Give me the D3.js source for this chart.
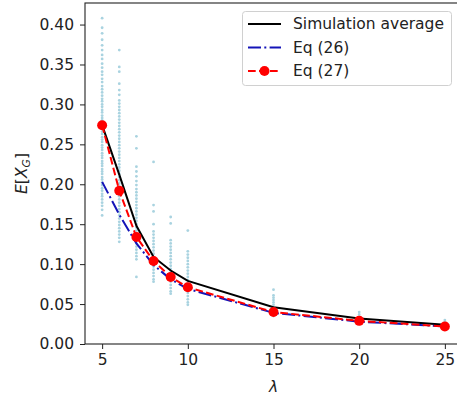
<!DOCTYPE html>
<html>
<head>
<meta charset="utf-8">
<script src="https://cdn.jsdelivr.net/npm/d3@7"></script>
<style>
  body { margin: 0; background: #fff; }
  svg { display: block; font-family: "DejaVu Sans", sans-serif; }
</style>
</head>
<body>
<svg id="chart" width="457" height="398"></svg>
<script>
// lambda values on the x axis
const lambdas = [5, 6, 7, 8, 9, 10, 15, 20, 25]
const simAverage = [0.274, 0.212, 0.148, 0.109, 0.092, 0.079, 0.046, 0.032, 0.024]
const eq26 = [0.203, 0.162, 0.126, 0.099, 0.081, 0.069, 0.039, 0.028, 0.022]
const eq27 = [0.274, 0.192, 0.134, 0.104, 0.084, 0.071, 0.040, 0.029, 0.022]

// single simulation runs (light blue dots), one list per lambda
const runs5 = [0.408, 0.396, 0.389, 0.381, 0.374, 0.368, 0.362, 0.357, 0.351, 0.346, 0.341, 0.337, 0.332, 0.328, 0.323, 0.319, 0.315, 0.311, 0.307, 0.304, 0.300, 0.297, 0.293, 0.290, 0.286, 0.283, 0.280, 0.276, 0.273, 0.270, 0.266, 0.263, 0.259, 0.256, 0.253, 0.249, 0.246, 0.243, 0.239, 0.236, 0.233, 0.229, 0.226, 0.223, 0.219, 0.216, 0.213, 0.209, 0.206, 0.202, 0.199, 0.195, 0.192, 0.188, 0.185, 0.181, 0.177, 0.173, 0.168, 0.161]
const runs6 = [0.368, 0.347, 0.341, 0.326, 0.318, 0.312, 0.305, 0.301, 0.297, 0.293, 0.289, 0.285, 0.281, 0.277, 0.273, 0.269, 0.265, 0.261, 0.257, 0.253, 0.249, 0.245, 0.241, 0.237, 0.233, 0.229, 0.225, 0.221, 0.217, 0.213, 0.209, 0.205, 0.201, 0.197, 0.193, 0.189, 0.185, 0.181, 0.177, 0.173, 0.169, 0.165, 0.161, 0.157, 0.153, 0.149, 0.145, 0.141, 0.137, 0.133, 0.128]
const runs7 = [0.260, 0.245, 0.222, 0.216, 0.210, 0.204, 0.199, 0.194, 0.190, 0.186, 0.182, 0.178, 0.174, 0.170, 0.166, 0.162, 0.158, 0.154, 0.150, 0.146, 0.142, 0.138, 0.134, 0.130, 0.126, 0.122, 0.118, 0.114, 0.110, 0.106, 0.084]
const runs8 = [0.228, 0.174, 0.166, 0.150, 0.141, 0.137, 0.133, 0.129, 0.125, 0.121, 0.117, 0.113, 0.109, 0.105, 0.101, 0.097, 0.093, 0.089, 0.085, 0.081, 0.078]
const runs9 = [0.159, 0.151, 0.130, 0.126, 0.122, 0.118, 0.114, 0.110, 0.106, 0.102, 0.098, 0.094, 0.090, 0.086, 0.082, 0.078, 0.074, 0.070, 0.066, 0.063]
const runs10 = [0.142, 0.116, 0.112, 0.108, 0.104, 0.100, 0.096, 0.092, 0.088, 0.084, 0.080, 0.076, 0.072, 0.068, 0.064, 0.060, 0.056, 0.052, 0.049]
const runs15 = [0.068, 0.061, 0.058, 0.055, 0.052, 0.049, 0.046, 0.043, 0.040, 0.037, 0.035]
const runs20 = [0.040, 0.037, 0.034, 0.031, 0.028, 0.025]
const runs25 = [0.030, 0.027, 0.024, 0.021, 0.019]
const runs = [runs5, runs6, runs7, runs8, runs9, runs10, runs15, runs20, runs25]

const xTicks = [5, 10, 15, 20, 25]
const yTicks = [0, 0.05, 0.10, 0.15, 0.20, 0.25, 0.30, 0.35, 0.40]
const legendLabels = ["Simulation average", "Eq (26)", "Eq (27)"]

const svg = d3.select("#chart")
const plot = { left: 85, right: 462, top: 3, bottom: 344 }
const fontSize = "15.5px"

const x = d3.scaleLinear().domain([4, 26]).range([plot.left, plot.right])
const y = d3.scaleLinear().domain([0, 0.427]).range([plot.bottom, plot.top])

const blue = "#1414b8"

// scatter of single runs
const dots = []
runs.forEach((list, i) => list.forEach(v => dots.push({ lam: lambdas[i], v: v })))
svg.append("g")
  .selectAll("circle")
  .data(dots)
  .enter()
  .append("circle")
  .attr("cx", d => x(d.lam))
  .attr("cy", d => y(d.v))
  .attr("r", 1.4)
  .attr("fill", "#a9d3e0")

const line = d3.line()
  .x((d, i) => x(lambdas[i]))
  .y(d => y(d))

// simulation average
svg.append("path")
  .datum(simAverage)
  .attr("d", line)
  .attr("fill", "none")
  .attr("stroke", "#000")
  .attr("stroke-width", 2)

// Eq (26)
svg.append("path")
  .datum(eq26)
  .attr("d", line)
  .attr("fill", "none")
  .attr("stroke", blue)
  .attr("stroke-width", 2)
  .attr("stroke-dasharray", "13,3.3,2,3.3")

// Eq (27)
svg.append("path")
  .datum(eq27)
  .attr("d", line)
  .attr("fill", "none")
  .attr("stroke", "red")
  .attr("stroke-width", 2)
  .attr("stroke-dasharray", "7.7,3.3")

svg.append("g")
  .selectAll("circle")
  .data(eq27)
  .enter()
  .append("circle")
  .attr("cx", (d, i) => x(lambdas[i]))
  .attr("cy", d => y(d))
  .attr("r", 5)
  .attr("fill", "red")

// axes
const xAxis = svg.append("g")
  .attr("transform", "translate(0," + plot.bottom + ")")
  .call(d3.axisBottom(x).tickValues(xTicks).tickSize(5).tickPadding(5).tickFormat(d3.format("d")))

const yAxis = svg.append("g")
  .attr("transform", "translate(" + plot.left + ",0)")
  .call(d3.axisLeft(y).tickValues(yTicks).tickSize(5).tickPadding(6).tickFormat(d3.format(".2f")))

;[xAxis, yAxis].forEach(a => {
  a.select(".domain").remove()
  a.selectAll("line").attr("stroke", "#222").attr("stroke-width", 1)
  a.selectAll("text").attr("fill", "#222").style("font-size", fontSize).style("font-family", "DejaVu Sans")
})

// frame
svg.append("rect")
  .attr("x", plot.left)
  .attr("y", plot.top)
  .attr("width", plot.right - plot.left)
  .attr("height", plot.bottom - plot.top)
  .attr("fill", "none")
  .attr("stroke", "#222")
  .attr("stroke-width", 1.1)

// axis labels
svg.append("text")
  .attr("x", (plot.left + plot.right) / 2)
  .attr("y", 392)
  .attr("text-anchor", "middle")
  .style("font-size", fontSize)
  .style("font-style", "italic")
  .attr("fill", "#222")
  .text("λ")

const yLabel = svg.append("text")
  .attr("transform", "translate(27," + ((plot.top + plot.bottom) / 2) + ") rotate(-90)")
  .attr("text-anchor", "middle")
  .style("font-size", fontSize)
  .attr("fill", "#222")
yLabel.append("tspan").style("font-style", "italic").text("E")
yLabel.append("tspan").text("[")
yLabel.append("tspan").style("font-style", "italic").text("X")
yLabel.append("tspan").style("font-style", "italic").style("font-size", "10.8px").attr("dy", 2.8).text("G")
yLabel.append("tspan").attr("dy", -2.8).text("]")

// legend
const legend = svg.append("g")
legend.append("rect")
  .attr("x", 242.5)
  .attr("y", 11.5)
  .attr("width", 209)
  .attr("height", 74)
  .attr("rx", 3)
  .attr("fill", "#fff")
  .attr("fill-opacity", 0.8)
  .attr("stroke", "#d0d0d0")

const rowY = [24, 47.5, 71]
const legendStyles = [
  { color: "#000", dash: null, marker: false },
  { color: blue, dash: "13,3.3,2,3.3", marker: false },
  { color: "red", dash: "7.7,3.3", marker: true }
]
legendStyles.forEach((s, i) => {
  const g = legend.append("g")
  g.append("line")
    .attr("x1", 248).attr("x2", 281)
    .attr("y1", rowY[i]).attr("y2", rowY[i])
    .attr("stroke", s.color)
    .attr("stroke-width", 2)
    .attr("stroke-dasharray", s.dash)
  if (s.marker) {
    g.append("circle").attr("cx", 264.5).attr("cy", rowY[i]).attr("r", 5).attr("fill", "red")
  }
  g.append("text")
    .attr("x", 293)
    .attr("y", rowY[i])
    .attr("dy", "0.35em")
    .style("font-size", fontSize)
    .attr("fill", "#222")
    .text(legendLabels[i])
})
</script>
</body>
</html>
